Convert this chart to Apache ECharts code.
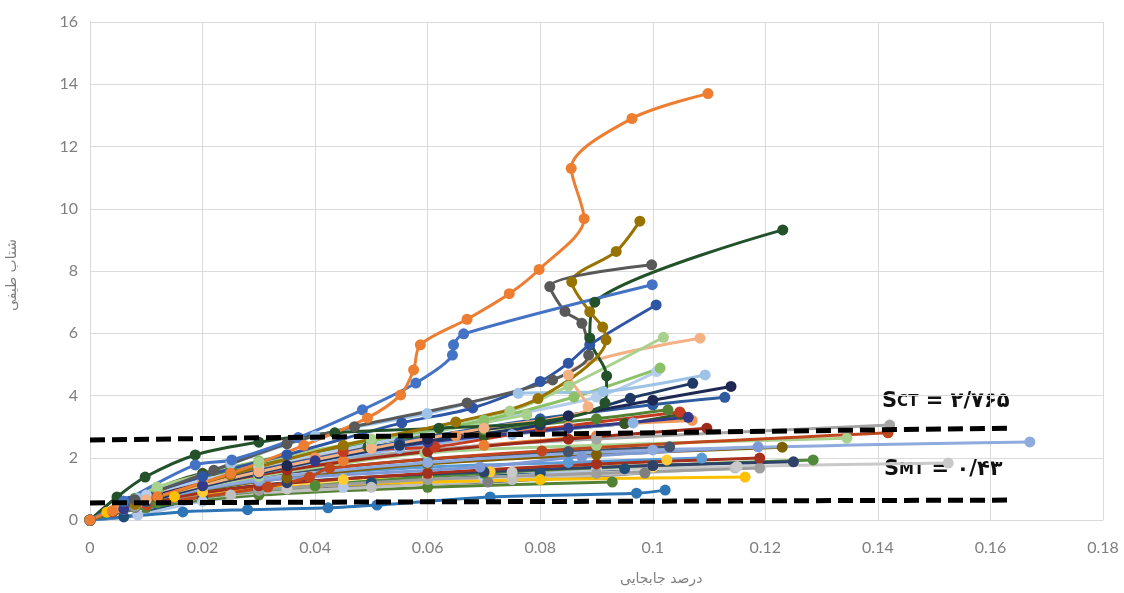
<!DOCTYPE html>
<html>
<head>
<meta charset="utf-8">
<script src="https://cdn.jsdelivr.net/npm/echarts@6.0.0/dist/echarts.min.js"></script>
<style>
  html, body { margin: 0; padding: 0; background: #fff; }
  #chart { width: 1124px; height: 593px; }
</style>
</head>
<body>
<div id="chart"></div>
<script>
// axis range
var xRange = [0, 0.18, 0.02];
var yRange = [0, 16, 2];

// IDA curves: [drift, Sa]
var c01 = [[0,0],[0.004,0.3],[0.012,0.75],[0.025,1.5],[0.038,2.4],[0.0493,3.28],[0.0552,4.02],[0.0575,4.82],[0.0587,5.63],[0.067,6.45],[0.0745,7.27],[0.0798,8.05],[0.0878,9.68],[0.0855,11.3],[0.0963,12.9],[0.1098,13.7]];
var c02 = [[0,0],[0.006,0.6],[0.0187,1.77],[0.0252,1.93],[0.037,2.65],[0.0484,3.54],[0.0579,4.4],[0.0644,5.3],[0.0646,5.63],[0.0664,5.98],[0.0999,7.56]];
var c03 = [[0,0],[0.008,0.65],[0.022,1.6],[0.035,2.45],[0.047,3.0],[0.067,3.76],[0.0822,4.5],[0.0886,5.3],[0.0874,6.32],[0.0844,6.7],[0.0817,7.5],[0.0998,8.2]];
var c04 = [[0,0],[0.008,0.5],[0.025,1.45],[0.045,2.4],[0.065,3.15],[0.0796,3.9],[0.0917,5.79],[0.0911,6.2],[0.0888,6.69],[0.0856,7.65],[0.0935,8.63],[0.0977,9.6]];
var c05 = [[0,0],[0.0048,0.74],[0.0098,1.38],[0.0187,2.09],[0.03,2.5],[0.0435,2.8],[0.062,2.95],[0.08,3.15],[0.0915,3.76],[0.0918,4.63],[0.0888,5.85],[0.0897,7.0],[0.1231,9.32]];
var c06 = [[0,0],[0.007,0.6],[0.02,1.4],[0.035,2.1],[0.0554,3.12],[0.068,3.6],[0.08,4.45],[0.085,5.04],[0.0888,5.63],[0.1006,6.91]];
var c07 = [[0,0],[0.0119,1.06],[0.03,1.85],[0.05,2.6],[0.0746,3.5],[0.085,4.3],[0.1019,5.87]];
var c08 = [[0,0],[0.01,0.65],[0.03,1.55],[0.05,2.3],[0.07,2.95],[0.0885,3.64],[0.085,4.66],[0.1084,5.84]];
var c09 = [[0,0],[0.0085,0.7],[0.025,1.8],[0.04,2.7],[0.0599,3.42],[0.0761,4.07],[0.0912,4.13],[0.1093,4.66]];
var c10 = [[0,0],[0.012,1.0],[0.03,1.9],[0.05,2.55],[0.07,3.2],[0.086,3.95],[0.1013,4.88]];
var c11 = [[0,0],[0.01,0.8],[0.03,1.7],[0.05,2.45],[0.07,3.2],[0.09,3.95],[0.1007,4.77]];
var c12 = [[0,0],[0.01,0.6],[0.03,1.5],[0.055,2.4],[0.08,3.05],[0.096,3.91],[0.1071,4.39]];
var c13 = [[0,0],[0.012,0.8],[0.035,1.75],[0.06,2.6],[0.085,3.35],[0.1,3.85],[0.1139,4.29]];
var c14 = [[0,0],[0.01,0.7],[0.03,1.6],[0.055,2.5],[0.08,3.25],[0.1,3.7],[0.1128,3.94]];
var c15 = [[0,0],[0.006,0.35],[0.02,1.1],[0.04,1.9],[0.06,2.5],[0.085,2.95],[0.1063,3.3]];
var c16 = [[0,0],[0.01,0.75],[0.025,1.45],[0.045,2.2],[0.0613,2.35],[0.08,2.9],[0.1048,3.47]];
var c17 = [[0,0],[0.008,0.7],[0.025,1.6],[0.045,2.35],[0.07,2.9],[0.09,3.25],[0.1027,3.54]];
var c18 = [[0,0],[0.01,0.6],[0.03,1.5],[0.055,2.3],[0.075,2.75],[0.0965,3.12]];
var c19 = [[0,0],[0.012,0.8],[0.035,1.6],[0.06,2.2],[0.085,2.6],[0.1096,2.95]];
var c20 = [[0,0],[0.005,0.4],[0.02,1.25],[0.04,2.0],[0.065,2.7],[0.085,3.0],[0.107,3.2]];
var c21 = [[0,0],[0.01,0.75],[0.03,1.6],[0.06,2.25],[0.09,2.6],[0.1421,3.05]];
var c22 = [[0,0],[0.0041,0.26],[0.0101,0.48],[0.0316,1.06],[0.039,1.38],[0.0426,1.67],[0.0803,2.22],[0.1418,2.8]];
var c23 = [[0,0],[0.01,0.7],[0.03,1.4],[0.0595,2.15],[0.09,2.4],[0.1345,2.63]];
var c24 = [[0,0],[0.008,0.55],[0.03,1.3],[0.06,1.85],[0.1,2.25],[0.167,2.51]];
var c25 = [[0,0],[0.01,0.6],[0.03,1.25],[0.0693,1.7],[0.0874,2.03],[0.1187,2.35]];
var c26 = [[0,0],[0.012,0.7],[0.035,1.35],[0.06,1.8],[0.09,2.1],[0.123,2.34]];
var c27 = [[0,0],[0.01,0.55],[0.03,1.1],[0.06,1.5],[0.09,1.8],[0.119,1.99]];
var c28 = [[0,0],[0.008,0.45],[0.03,0.95],[0.06,1.3],[0.09,1.5],[0.119,1.67]];
var c29 = [[0,0],[0.01,0.6],[0.035,1.2],[0.07,1.55],[0.1,1.75],[0.125,1.87]];
var c30 = [[0,0],[0.012,0.55],[0.04,1.1],[0.07,1.5],[0.1,1.75],[0.1285,1.93]];
var c31 = [[0,0],[0.01,0.5],[0.035,1.0],[0.075,1.54],[0.115,1.72],[0.1525,1.83]];
var c32 = [[0,0],[0.003,0.25],[0.015,0.75],[0.04,1.1],[0.08,1.3],[0.1164,1.38]];
var c33 = [[0,0],[0.006,0.35],[0.025,0.8],[0.05,1.05],[0.075,1.3],[0.1146,1.67]];
var c34 = [[0,0],[0.008,0.6],[0.03,1.3],[0.06,1.7],[0.085,1.85],[0.1087,1.99]];
var c35 = [[0,0],[0.005,0.4],[0.02,0.9],[0.045,1.3],[0.0711,1.55],[0.1025,1.93]];
var c36 = [[0,0],[0.01,0.7],[0.03,1.4],[0.06,1.95],[0.085,2.2],[0.103,2.35]];
var c37 = [[0,0],[0.01,0.4],[0.03,0.8],[0.06,1.05],[0.0928,1.22]];
var c38 = [[0,0],[0.0165,0.26],[0.028,0.33],[0.0423,0.39],[0.051,0.48],[0.0711,0.74],[0.0971,0.86],[0.1022,0.96]];
var c39 = [[0,0],[0.008,0.4],[0.03,0.95],[0.0707,1.22],[0.0986,1.51]];
var c40 = [[0,0],[0.0085,0.16],[0.02,0.6],[0.045,1.05],[0.07,1.35],[0.09,1.6]];
var c41 = [[0,0],[0.006,0.1],[0.02,0.7],[0.05,1.2],[0.08,1.5],[0.095,1.65]];
var c42 = [[0,0],[0.007,0.5],[0.02,1.1],[0.045,1.9],[0.07,2.4],[0.09,2.7]];
var c43 = [[0,0],[0.012,0.9],[0.03,1.7],[0.05,2.45],[0.0776,3.38]];
var c44 = [[0,0],[0.006,0.6],[0.02,1.5],[0.0494,2.35],[0.07,2.7],[0.095,3.1],[0.105,3.4]];
var c45 = [[0,0],[0.01,0.5],[0.03,1.0],[0.06,1.35],[0.09,1.6],[0.1,1.7]];

var curves = [c45, c44, c43, c42, c41, c40, c39, c38, c37, c36, c35, c34, c33, c32, c31,
  c30, c29, c28, c27, c26, c25, c24, c23, c22, c21, c20, c19, c18, c17, c16, c15,
  c14, c13, c12, c11, c10, c09, c08, c07, c06, c05, c04, c03, c02, c01];
var curveColors = ['#FFD966', '#375623', '#A9D18E', '#ED7D31', '#1F4E79', '#B4C7E7', '#7F7F7F', '#2E75B6', '#548235', '#44546A', '#FFCD33', '#5B9BD5', '#BFBFBF', '#FFC000', '#C9C9C9',
  '#4E8A3A', '#2F4168', '#9E9E9E', '#A5301E', '#7F6000', '#7F98D6', '#8FAADC', '#A9D18E', '#C0461E', '#A5A5A5', '#F1975A', '#9E2A1A', '#8FB4E3', '#548235', '#C43B22', '#333A8A',
  '#2E5C9E', '#1F2753', '#203864', '#B4CDEA', '#8CC168', '#9DC3E6', '#F4B183', '#A9D18E', '#2F55A5', '#22512A', '#997300', '#595959', '#4472C4', '#ED7D31'];

// threshold lines
var sctLine = [[0, 2.57], [0.163, 2.95]];
var smtLine = [[0, 0.55], [0.163, 0.64]];

var chart = echarts.init(document.getElementById('chart'));

var series = curves.map(function (d, i) {
  return {
    type: 'line',
    data: d,
    smooth: 0.3,
    symbol: 'circle',
    symbolSize: 11,
    lineStyle: { width: 3, color: curveColors[i] },
    itemStyle: { color: curveColors[i] },
    z: 2
  };
});

[sctLine, smtLine].forEach(function (d) {
  series.push({
    type: 'line',
    data: d,
    symbol: 'none',
    lineStyle: { width: 5, color: '#000', type: [15, 7] },
    z: 5
  });
});

chart.setOption({
  animation: false,
  backgroundColor: '#fff',
  grid: { left: 90, right: 21, top: 22, bottom: 73, outerBoundsMode: 'none' },
  xAxis: {
    type: 'value',
    min: xRange[0],
    max: xRange[1],
    interval: xRange[2],
    axisLine: { show: true, lineStyle: { color: '#D9D9D9' } },
    axisTick: { show: false },
    axisLabel: {
      color: '#7F7F7F',
      fontSize: 16,
      fontFamily: 'Lato',
      margin: 20,
      formatter: function (v) { return String(+v.toFixed(2)); }
    },
    splitLine: { show: true, lineStyle: { color: '#DDDADA', width: 1 } }
  },
  yAxis: {
    type: 'value',
    min: yRange[0],
    max: yRange[1],
    interval: yRange[2],
    axisLine: { show: true, lineStyle: { color: '#D9D9D9' } },
    axisTick: { show: false },
    axisLabel: { color: '#7F7F7F', fontSize: 16, fontFamily: 'Lato', margin: 12 },
    splitLine: { show: true, lineStyle: { color: '#DDDADA', width: 1 } }
  },
  graphic: [
    {
      type: 'text',
      left: 620, top: 572,
      style: { text: 'درصد جابجایی', fill: '#7F7F7F', font: '14px "DejaVu Sans"', textAlign: 'center' }
    },
    {
      type: 'text',
      x: 12, y: 275,
      rotation: Math.PI / 2,
      style: { text: 'شتاب طیفی', fill: '#7F7F7F', font: '14px "DejaVu Sans"', textAlign: 'center', textVerticalAlign: 'middle' }
    },
    {
      type: 'text',
      x: 882, y: 402,
      style: {
        text: '{s|S}{c|CT}{s| = ۲/۷۶۵}',
        textVerticalAlign: 'middle',
        rich: {
          s: { fontSize: 21, fontWeight: 'bold', fontFamily: 'DejaVu Sans', fill: '#111' },
          c: { fontSize: 15, fontWeight: 'bold', fontFamily: 'DejaVu Sans', fill: '#111' }
        }
      }
    },
    {
      type: 'text',
      x: 884, y: 470,
      style: {
        text: '{s|S}{c|MT}{s| = ۰/۴۳}',
        textVerticalAlign: 'middle',
        rich: {
          s: { fontSize: 21, fontWeight: 'bold', fontFamily: 'DejaVu Sans', fill: '#111' },
          c: { fontSize: 15, fontWeight: 'bold', fontFamily: 'DejaVu Sans', fill: '#111' }
        }
      }
    }
  ],
  series: series
});
</script>
</body>
</html>
